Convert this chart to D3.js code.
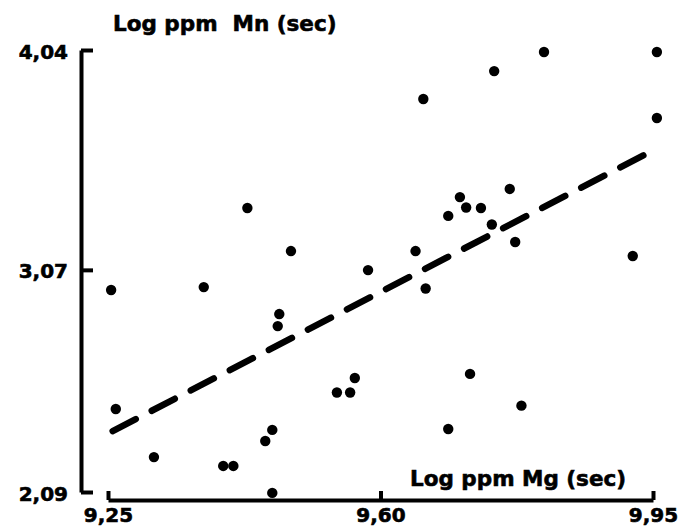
<!DOCTYPE html>
<html>
<head>
<meta charset="utf-8">
<script src="https://cdn.jsdelivr.net/npm/d3@7"></script>
<style>
  body { margin: 0; background: #fff; }
  svg { display: block; }
  text { font-family: "DejaVu Sans", sans-serif; font-weight: bold; fill: #000; stroke: #000; stroke-width: 0.6px; }
</style>
</head>
<body>
<svg id="chart" width="678" height="526"></svg>
<script>

// Log ppm Mg (x) and Log ppm Mn (y)
var mgValues = [9.254, 9.260, 9.309, 9.373, 9.398, 9.411, 9.429, 9.452, 9.461, 9.461,
    9.470, 9.468, 9.485, 9.544, 9.561, 9.567, 9.584, 9.645, 9.655, 9.658,
    9.687, 9.687, 9.702, 9.710, 9.715, 9.729, 9.743, 9.746, 9.766, 9.773,
    9.781, 9.810, 9.924, 9.955, 9.955];
var mnValues = [2.981, 2.456, 2.244, 2.994, 2.205, 2.205, 3.343, 2.315, 2.364, 2.086,
    2.875, 2.822, 3.153, 2.529, 2.529, 2.593, 3.069, 3.153, 3.824, 2.988,
    3.308, 2.368, 3.391, 3.345, 2.611, 3.343, 3.270, 3.947, 3.427, 3.193,
    2.471, 4.031, 3.131, 4.031, 3.740];

// regression line end points
var fitX = [9.256, 9.946];
var fitY = [2.359, 3.590];

var xTicks = [9.25, 9.60, 9.95];
var yTicks = [2.09, 3.07, 4.04];

var svg = d3.select("#chart");

var x = d3.scaleLinear().domain([9.25, 9.95]).range([108, 653]);
var y = d3.scaleLinear().domain([2.09, 4.04]).range([492, 50]);

// numbers are written with a decimal comma
var commaFmt = function(d) { return d3.format(".2f")(d).replace(".", ","); };

// y axis, ticks point inwards
var yAxis = svg.append("g")
    .attr("transform", "translate(81,0)")
    .call(d3.axisLeft(y).tickValues(yTicks).tickSize(-12).tickSizeOuter(0)
        .tickPadding(13).tickFormat(commaFmt));

// x axis, ticks point upwards
var xAxis = svg.append("g")
    .attr("transform", "translate(0,500)")
    .call(d3.axisBottom(x).tickValues(xTicks).tickSize(-9).tickSizeOuter(0)
        .tickPadding(8).tickFormat(commaFmt));

[yAxis, xAxis].forEach(function(g) {
    g.select(".domain").attr("stroke", "#000").attr("stroke-width", 4);
    g.selectAll(".tick line").attr("stroke", "#000").attr("stroke-width", 4);
    g.selectAll(".tick text")
        .style("font-size", "20px")
        .style("font-family", "'DejaVu Sans', sans-serif")
        .style("font-weight", "bold")
        .style("stroke", "#000")
        .style("stroke-width", "0.6px");
});
yAxis.selectAll(".tick text").attr("dy", "0.4em");

// axis titles
svg.append("text")
    .attr("x", 113)
    .attr("y", 31)
    .style("font-size", "21.5px")
    .style("white-space", "pre")
    .text("Log ppm  Mn (sec)");

svg.append("text")
    .attr("x", 410)
    .attr("y", 486)
    .style("font-size", "21.5px")
    .text("Log ppm Mg (sec)");

// dashed regression line
var line = d3.line()
    .x(function(d) { return x(d[0]); })
    .y(function(d) { return y(d[1]); });

svg.append("path")
    .datum(d3.zip(fitX, fitY))
    .attr("d", line)
    .attr("fill", "none")
    .attr("stroke", "#000")
    .attr("stroke-width", 6.5)
    .attr("stroke-linecap", "round")
    .attr("stroke-dasharray", "26,18");

// data points
svg.selectAll("circle")
    .data(d3.zip(mgValues, mnValues))
    .enter()
    .append("circle")
    .attr("cx", function(d) { return x(d[0]); })
    .attr("cy", function(d) { return y(d[1]); })
    .attr("r", 5.2)
    .attr("fill", "#000");

</script>
</body>
</html>
